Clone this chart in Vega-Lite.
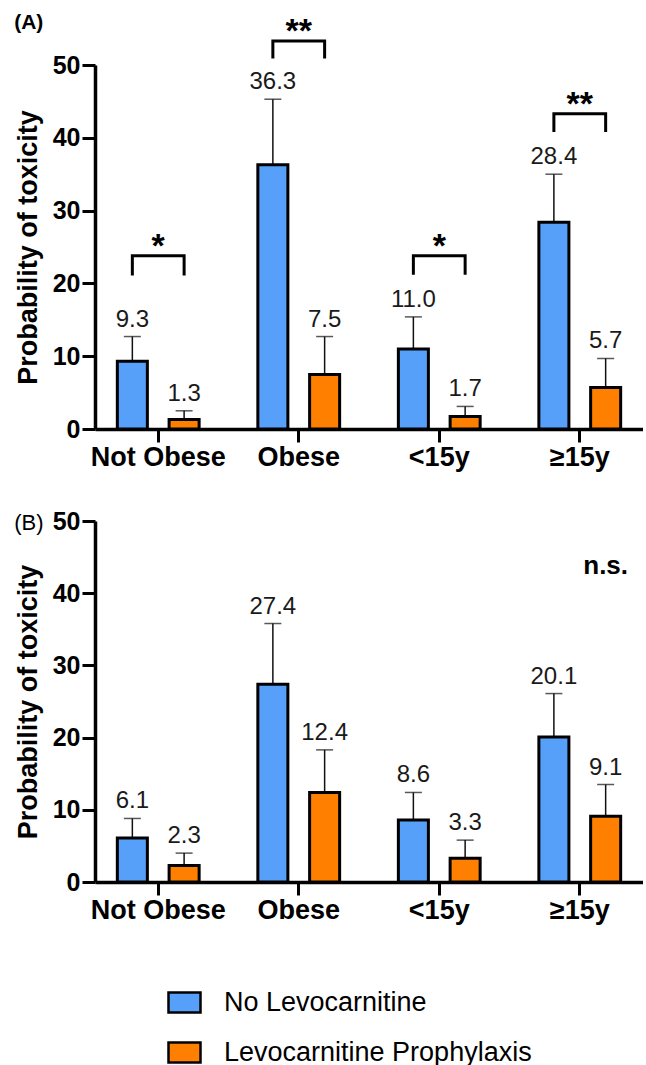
{
  "$schema": "https://vega.github.io/schema/vega-lite/v6.json",
  "autosize": {"type": "pad"},
  "padding": {"left": 14, "top": 11, "right": 0, "bottom": 0},
  "background": "white",
  "config": {
    "font": "Liberation Sans",
    "view": {"stroke": null},
    "axis": {"grid": false, "domainColor": "black", "tickColor": "black", "labelColor": "black", "titleColor": "black", "domainWidth": 3.5, "tickWidth": 3, "tickSize": 13},
    "concat": {"spacing": 39}
  },
  "datasets": {
    "bars": [
      {"panel": "A", "cat": "Not Obese", "group": "No Levocarnitine", "value": 9.3, "upper": 12.7},
      {"panel": "A", "cat": "Not Obese", "group": "Levocarnitine Prophylaxis", "value": 1.3, "upper": 2.5},
      {"panel": "A", "cat": "Obese", "group": "No Levocarnitine", "value": 36.3, "upper": 45.3},
      {"panel": "A", "cat": "Obese", "group": "Levocarnitine Prophylaxis", "value": 7.5, "upper": 12.7},
      {"panel": "A", "cat": "<15y", "group": "No Levocarnitine", "value": 11.0, "upper": 15.4},
      {"panel": "A", "cat": "<15y", "group": "Levocarnitine Prophylaxis", "value": 1.7, "upper": 3.1},
      {"panel": "A", "cat": "≥15y", "group": "No Levocarnitine", "value": 28.4, "upper": 35.0},
      {"panel": "A", "cat": "≥15y", "group": "Levocarnitine Prophylaxis", "value": 5.7, "upper": 9.7},
      {"panel": "B", "cat": "Not Obese", "group": "No Levocarnitine", "value": 6.1, "upper": 8.8},
      {"panel": "B", "cat": "Not Obese", "group": "Levocarnitine Prophylaxis", "value": 2.3, "upper": 4.0},
      {"panel": "B", "cat": "Obese", "group": "No Levocarnitine", "value": 27.4, "upper": 35.8},
      {"panel": "B", "cat": "Obese", "group": "Levocarnitine Prophylaxis", "value": 12.4, "upper": 18.3},
      {"panel": "B", "cat": "<15y", "group": "No Levocarnitine", "value": 8.6, "upper": 12.4},
      {"panel": "B", "cat": "<15y", "group": "Levocarnitine Prophylaxis", "value": 3.3, "upper": 5.8},
      {"panel": "B", "cat": "≥15y", "group": "No Levocarnitine", "value": 20.1, "upper": 26.1},
      {"panel": "B", "cat": "≥15y", "group": "Levocarnitine Prophylaxis", "value": 9.1, "upper": 13.5}
    ],
    "brackets": [
      {"cat": "Not Obese", "group": "No Levocarnitine", "y": 21.3, "ord": 1},
      {"cat": "Not Obese", "group": "No Levocarnitine", "y": 23.8, "ord": 2},
      {"cat": "Not Obese", "group": "Levocarnitine Prophylaxis", "y": 23.8, "ord": 3},
      {"cat": "Not Obese", "group": "Levocarnitine Prophylaxis", "y": 21.3, "ord": 4},
      {"cat": "Obese", "group": "No Levocarnitine", "y": 51.1, "ord": 1},
      {"cat": "Obese", "group": "No Levocarnitine", "y": 53.3, "ord": 2},
      {"cat": "Obese", "group": "Levocarnitine Prophylaxis", "y": 53.3, "ord": 3},
      {"cat": "Obese", "group": "Levocarnitine Prophylaxis", "y": 51.1, "ord": 4},
      {"cat": "<15y", "group": "No Levocarnitine", "y": 21.4, "ord": 1},
      {"cat": "<15y", "group": "No Levocarnitine", "y": 23.8, "ord": 2},
      {"cat": "<15y", "group": "Levocarnitine Prophylaxis", "y": 23.8, "ord": 3},
      {"cat": "<15y", "group": "Levocarnitine Prophylaxis", "y": 21.4, "ord": 4},
      {"cat": "≥15y", "group": "No Levocarnitine", "y": 41.0, "ord": 1},
      {"cat": "≥15y", "group": "No Levocarnitine", "y": 43.3, "ord": 2},
      {"cat": "≥15y", "group": "Levocarnitine Prophylaxis", "y": 43.3, "ord": 3},
      {"cat": "≥15y", "group": "Levocarnitine Prophylaxis", "y": 41.0, "ord": 4}
    ],
    "stars": [
      {"cat": "Not Obese", "y": 23.8, "label": "*"},
      {"cat": "Obese", "y": 53.3, "label": "**"},
      {"cat": "<15y", "y": 23.8, "label": "*"},
      {"cat": "≥15y", "y": 43.3, "label": "**"}
    ],
    "ns": [
      {"cat": "≥15y", "group": "Levocarnitine Prophylaxis", "y": 43.7, "label": "n.s."}
    ]
  },
  "resolve": {"legend": {"color": "independent"}},
  "vconcat": [
    {
      "width": 548,
      "height": 364,
      "title": {"text": "(A)", "anchor": "start", "frame": "bounds", "fontSize": 21, "fontWeight": "bold", "color": "black", "offset": 0, "dy": 18},
      "encoding": {
        "x": {"field": "cat", "type": "nominal", "sort": ["Not Obese", "Obese", "<15y", "≥15y"], "scale": {"paddingInner": 0.3, "paddingOuter": 0.1},
          "axis": {"title": null, "labelAngle": 0, "labelFontSize": 27, "labelFontWeight": "bold", "labelPadding": 2}}
      },
      "layer": [
        {
          "data": {"name": "bars"},
          "transform": [{"filter": "datum.panel == 'A'"}],
          "mark": {"type": "rule", "strokeWidth": 1.5, "color": "#111"},
          "encoding": {
            "xOffset": {"field": "group", "sort": ["No Levocarnitine", "Levocarnitine Prophylaxis"], "scale": {"paddingInner": 0.42, "paddingOuter": 0.16}},
            "y": {"field": "value", "type": "quantitative", "scale": {"domain": [0, 50]},
              "axis": {"values": [0, 10, 20, 30, 40, 50], "title": "Probability of toxicity", "titleFontSize": 27, "titleFontWeight": "bold", "titlePadding": 10, "labelFontSize": 25, "labelFontWeight": "bold", "labelPadding": 2}},
            "y2": {"field": "upper"}
          }
        },
        {
          "data": {"name": "bars"},
          "transform": [{"filter": "datum.panel == 'A'"}],
          "mark": {"type": "tick", "size": 17, "thickness": 1.5, "color": "#111"},
          "encoding": {
            "xOffset": {"field": "group", "sort": ["No Levocarnitine", "Levocarnitine Prophylaxis"]},
            "y": {"field": "upper", "type": "quantitative"}
          }
        },
        {
          "data": {"name": "bars"},
          "transform": [{"filter": "datum.panel == 'A'"}],
          "mark": {"type": "bar", "stroke": "black", "strokeWidth": 3},
          "encoding": {
            "xOffset": {"field": "group", "sort": ["No Levocarnitine", "Levocarnitine Prophylaxis"]},
            "y": {"field": "value", "type": "quantitative"},
            "color": {"field": "group", "type": "nominal", "scale": {"domain": ["No Levocarnitine", "Levocarnitine Prophylaxis"], "range": ["#57A0FA", "#FF8000"]}, "legend": null}
          }
        },
        {
          "data": {"name": "bars"},
          "transform": [{"filter": "datum.panel == 'A'"}],
          "mark": {"type": "text", "baseline": "alphabetic", "dy": -10, "fontSize": 24, "color": "#1a1a1a"},
          "encoding": {
            "xOffset": {"field": "group", "sort": ["No Levocarnitine", "Levocarnitine Prophylaxis"]},
            "y": {"field": "upper", "type": "quantitative"},
            "text": {"field": "value", "type": "quantitative", "format": ".1f"}
          }
        },
        {
          "data": {"name": "brackets"},
          "mark": {"type": "line", "strokeWidth": 3, "color": "black", "clip": false, "strokeJoin": "miter", "strokeCap": "square"},
          "encoding": {
            "xOffset": {"field": "group", "sort": ["No Levocarnitine", "Levocarnitine Prophylaxis"]},
            "y": {"field": "y", "type": "quantitative"},
            "detail": {"field": "cat"},
            "order": {"field": "ord"}
          }
        },
        {
          "data": {"name": "stars"},
          "mark": {"type": "text", "baseline": "alphabetic", "fontSize": 34, "fontWeight": "bold", "dy": 1, "clip": false, "color": "black"},
          "encoding": {
            "y": {"field": "y", "type": "quantitative"},
            "text": {"field": "label"}
          }
        }
      ]
    },
    {
      "width": 548,
      "height": 361,
      "title": {"text": "(B)", "anchor": "start", "frame": "bounds", "fontSize": 22, "fontWeight": "normal", "color": "black", "offset": 0, "dy": 26},
      "encoding": {
        "x": {"field": "cat", "type": "nominal", "sort": ["Not Obese", "Obese", "<15y", "≥15y"], "scale": {"paddingInner": 0.3, "paddingOuter": 0.1},
          "axis": {"title": null, "labelAngle": 0, "labelFontSize": 27, "labelFontWeight": "bold", "labelPadding": 2}}
      },
      "layer": [
        {
          "data": {"name": "bars"},
          "transform": [{"filter": "datum.panel == 'B'"}],
          "mark": {"type": "rule", "strokeWidth": 1.5, "color": "#111"},
          "encoding": {
            "xOffset": {"field": "group", "sort": ["No Levocarnitine", "Levocarnitine Prophylaxis"], "scale": {"paddingInner": 0.42, "paddingOuter": 0.16}},
            "y": {"field": "value", "type": "quantitative", "scale": {"domain": [0, 50]},
              "axis": {"values": [0, 10, 20, 30, 40, 50], "title": "Probability of toxicity", "titleFontSize": 27, "titleFontWeight": "bold", "titlePadding": 10, "labelFontSize": 25, "labelFontWeight": "bold", "labelPadding": 2}},
            "y2": {"field": "upper"}
          }
        },
        {
          "data": {"name": "bars"},
          "transform": [{"filter": "datum.panel == 'B'"}],
          "mark": {"type": "tick", "size": 17, "thickness": 1.5, "color": "#111"},
          "encoding": {
            "xOffset": {"field": "group", "sort": ["No Levocarnitine", "Levocarnitine Prophylaxis"]},
            "y": {"field": "upper", "type": "quantitative"}
          }
        },
        {
          "data": {"name": "bars"},
          "transform": [{"filter": "datum.panel == 'B'"}],
          "mark": {"type": "bar", "stroke": "black", "strokeWidth": 3},
          "encoding": {
            "xOffset": {"field": "group", "sort": ["No Levocarnitine", "Levocarnitine Prophylaxis"]},
            "y": {"field": "value", "type": "quantitative"},
            "color": {"field": "group", "type": "nominal", "sort": ["No Levocarnitine", "Levocarnitine Prophylaxis"], "scale": {"domain": ["No Levocarnitine", "Levocarnitine Prophylaxis"], "range": ["#57A0FA", "#FF8000"]},
              "legend": {"orient": "none", "legendX": 76, "legendY": 468, "title": null, "direction": "vertical", "symbolType": "M-1.6,-1H1.6V1H-1.6Z", "symbolSize": 400, "symbolStrokeColor": "black", "symbolStrokeWidth": 2.5, "labelFontSize": 27, "labelColor": "black", "labelOffset": 26, "rowPadding": 19, "labelLimit": 500}}
          }
        },
        {
          "data": {"name": "bars"},
          "transform": [{"filter": "datum.panel == 'B'"}],
          "mark": {"type": "text", "baseline": "alphabetic", "dy": -10, "fontSize": 24, "color": "#1a1a1a"},
          "encoding": {
            "xOffset": {"field": "group", "sort": ["No Levocarnitine", "Levocarnitine Prophylaxis"]},
            "y": {"field": "upper", "type": "quantitative"},
            "text": {"field": "value", "type": "quantitative", "format": ".1f"}
          }
        },
        {
          "data": {"name": "ns"},
          "mark": {"type": "text", "baseline": "middle", "fontSize": 26, "fontWeight": "bold", "color": "black"},
          "encoding": {
            "xOffset": {"field": "group", "sort": ["No Levocarnitine", "Levocarnitine Prophylaxis"]},
            "y": {"field": "y", "type": "quantitative"},
            "text": {"field": "label"}
          }
        }
      ]
    }
  ]
}
